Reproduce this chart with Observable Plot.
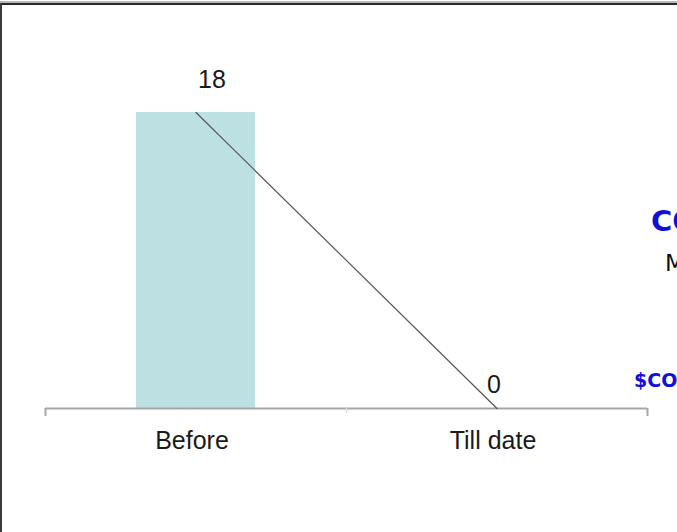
<!DOCTYPE html>
<html>
<head>
<meta charset="utf-8">
<script src="https://cdn.jsdelivr.net/npm/d3@7"></script>
<script src="https://cdn.jsdelivr.net/npm/@observablehq/plot@0.6"></script>
<style>
  html, body { margin: 0; padding: 0; background: #fff; }
  body { width: 677px; height: 532px; overflow: hidden; position: relative; font-family: "Liberation Sans", Arial, sans-serif; }
  #chart { position: absolute; left: 0; top: 0; }
  .frame-top-light { position: absolute; left: 0; top: 1px; width: 677px; height: 2px; background: #b8b8b8; }
  .frame-top { position: absolute; left: 0; top: 3px; width: 677px; height: 2px; background: #2a2a2a; }
  .frame-left { position: absolute; left: 0; top: 3px; width: 2px; height: 529px; background: #3a3a3a; }
  .side { position: absolute; white-space: nowrap; font-family: "DejaVu Sans", Verdana, sans-serif; font-weight: bold; }
</style>
</head>
<body>
<div id="chart"></div>
<div class="frame-top-light"></div>
<div class="frame-top"></div>
<div class="frame-left"></div>
<div class="side" style="left:651px; top:204px; font-size:29px; color:#1010d8;">COST</div>
<div class="side" style="left:665px; top:250px; font-size:23px; color:#111; font-weight:normal;">MONTH</div>
<div class="side" style="left:634px; top:369px; font-size:19px; color:#1010d8;">$CO</div>
<script>
const categories = ["Before", "Till date"];
const values = [18, 0];
const labels = ["18", "0"];

const data = categories.map((c, i) => ({cat: categories[i], val: values[i], label: labels[i]}));

const W = 677, H = 532;
const mL = 45, mR = 30, mT = 112, mB = 124;
const bw = (W - mL - mR) / categories.length;
const first = categories[0], last = categories[categories.length - 1];

const plot = Plot.plot({
  width: W,
  height: H,
  marginLeft: mL,
  marginRight: mR,
  marginTop: mT,
  marginBottom: mB,
  style: {fontFamily: "'Liberation Sans', Arial, sans-serif", fontSize: "25px", color: "#1a1a1a", background: "transparent"},
  x: {type: "band", domain: categories, padding: 0, axis: null},
  y: {domain: [0, 18], axis: null},
  marks: [
    Plot.barY(data, {x: "cat", y: "val", fill: "#bde0e3", insetLeft: 91, insetRight: 91}),
    Plot.ruleY([0], {stroke: "#a6a6a6", strokeWidth: 2}),
    Plot.ruleX([first], {x: d => d, y1: 0, y2: 0, dx: -bw / 2, insetBottom: -8, stroke: "#a6a6a6", strokeWidth: 2}),
    Plot.ruleX(categories.slice(1), {x: d => d, y1: 0, y2: 0, dx: -bw / 2, insetBottom: -5, stroke: "#dcdcdc", strokeWidth: 1.5}),
    Plot.ruleX([last], {x: d => d, y1: 0, y2: 0, dx: bw / 2, insetBottom: -8, stroke: "#a6a6a6", strokeWidth: 2}),
    Plot.lineY(data, {x: "cat", y: "val", stroke: "#555", strokeWidth: 1.2}),
    Plot.text(data.slice(0, 1), {x: "cat", y: "val", text: "label", dx: 16, dy: -25, lineAnchor: "bottom", fill: "#1a1a1a"}),
    Plot.text(data.slice(1), {x: "cat", y: "val", text: "label", dx: -3, dy: -16, lineAnchor: "bottom", fill: "#1a1a1a"}),
    Plot.axisX({tickSize: 0, tickPadding: 23, dx: -4, fill: "#1a1a1a", fontSize: 25, label: null})
  ]
});
document.getElementById("chart").appendChild(plot);
</script>
</body>
</html>
